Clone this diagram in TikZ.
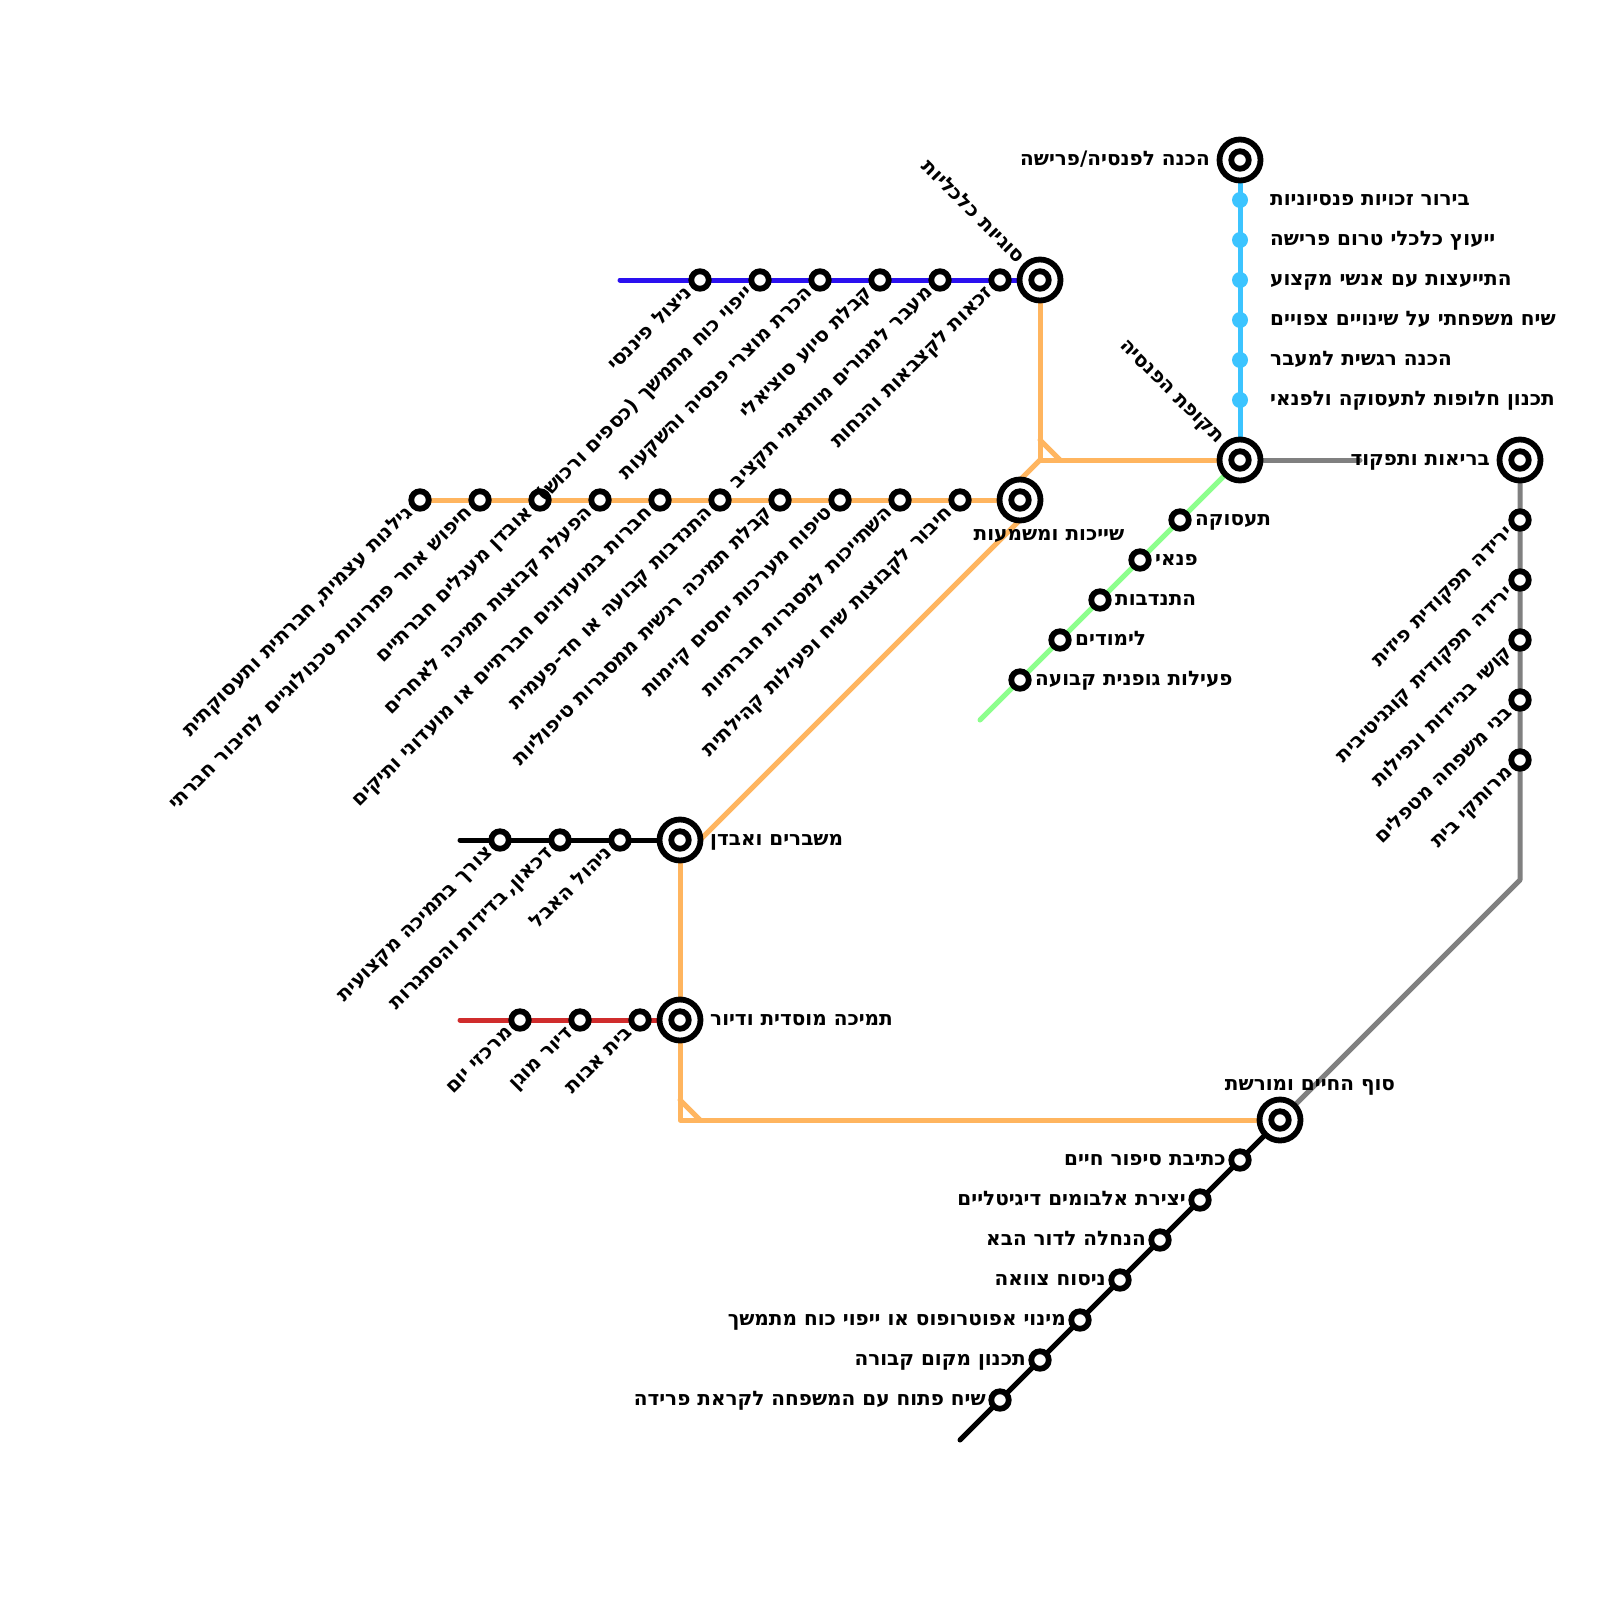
\documentclass[tikz,border=0pt]{standalone}
\usepackage{fontspec}
\TeXXeTstate=1
\newfontfamily\hebfont[Script=Hebrew]{DejaVu Sans}
\usetikzlibrary{backgrounds}
\definecolor{lorange}{HTML}{FFB55F}
\definecolor{lblue}{HTML}{2A10F0}
\definecolor{lcyan}{HTML}{3CC4FF}
\definecolor{lgreen}{HTML}{8CFF8C}
\definecolor{lgray}{HTML}{808080}
\definecolor{lred}{HTML}{D02C2C}
\newcommand{\hb}[1]{{\hebfont\bfseries\beginR #1\endR}}
\tikzset{
  st/.style={circle,draw=black,fill=white,line width=5.8pt,outer sep=0pt,minimum size=17.5pt,inner sep=0pt},
  dot/.style={circle,fill=lcyan,outer sep=0pt,minimum size=16pt,inner sep=0pt},
  hubo/.style={circle,draw=black,fill=white,line width=5.8pt,outer sep=0pt,minimum size=41pt,inner sep=0pt},
  hubi/.style={circle,draw=black,fill=white,line width=5.8pt,outer sep=0pt,minimum size=17.5pt,inner sep=0pt},
  lab/.style={inner sep=0pt,text height=14pt,text depth=4pt,font=\fontsize{20}{24}\selectfont},
  dl/.style={lab,xshift=-10pt,yshift=-10pt,rotate=45,anchor=east},
  ul/.style={lab,xshift=-19.5pt,yshift=19.5pt,rotate=-45,anchor=east},
  ll/.style={lab,xshift=-14pt,anchor=east},
  rl/.style={lab,xshift=15pt,anchor=west},
  line/.style={line width=5pt,line cap=round,line join=round},
}
\begin{document}
\begin{tikzpicture}[x=1pt,y=-1pt]
\useasboundingbox (0,0) rectangle (1600,1600);
% hubs
\foreach \n/\x/\y in {ha/1240/160,hb/1040/280,hc/1240/460,hd/1520/460,he/1020/500,hf/680/840,hg/680/1020,hh/1280/1120}{
  \node[hubo] (\n) at (\x,\y) {};
  \node[hubi] (\n i) at (\x,\y) {};
}
% stations
\foreach \n/\x in {b1/700,b2/760,b3/820,b4/880,b5/940,b6/1000}{\node[st] (\n) at (\x,280) {};}
\foreach \n/\x in {o1/420,o2/480,o3/540,o4/600,o5/660,o6/720,o7/780,o8/840,o9/900,o10/960}{\node[st] (\n) at (\x,500) {};}
\foreach \n/\y in {c1/200,c2/240,c3/280,c4/320,c5/360,c6/400}{\node[dot] (\n) at (1240,\y) {};}
\foreach \n/\x/\y in {g1/1180/520,g2/1140/560,g3/1100/600,g4/1060/640,g5/1020/680}{\node[st] (\n) at (\x,\y) {};}
\foreach \n/\y in {y1/520,y2/580,y3/640,y4/700,y5/760}{\node[st] (\n) at (1520,\y) {};}
\foreach \n/\x in {k1/500,k2/560,k3/620}{\node[st] (\n) at (\x,840) {};}
\foreach \n/\x in {r1/520,r2/580,r3/640}{\node[st] (\n) at (\x,1020) {};}
\foreach \n/\x/\y in {t1/1240/1160,t2/1200/1200,t3/1160/1240,t4/1120/1280,t5/1080/1320,t6/1040/1360,t7/1000/1400}{\node[st] (\n) at (\x,\y) {};}
% free ends and bends
\coordinate (bs) at (620,280);
\coordinate (os) at (1040,460);
\coordinate (ot) at (1040,440);
\coordinate (ou) at (1060,460);
\coordinate (oq) at (1020,480);
\coordinate (ov) at (1020,520);
\coordinate (ow) at (680,860);
\coordinate (ox) at (680,1120);
\coordinate (oy) at (680,1100);
\coordinate (oz) at (700,1120);
\coordinate (gs) at (980,720);
\coordinate (ya) at (1360,460);
\coordinate (yb) at (1520,880);
\coordinate (ks) at (460,840);
\coordinate (rs) at (460,1020);
\coordinate (ts) at (960,1440);
% lines
\begin{pgfonlayer}{background}
\draw[line,lorange] (o1.center)--(he.center);
\draw[line,lorange] (hb.center)--(os)--(hc.center);
\draw[line,lorange] (os)--(oq)--(he.center)--(ov)--(ow)--(hf.center);
\draw[line,lorange] (ot)--(ou);
\draw[line,lorange] (hf.center)--(ox)--(hh.center);
\draw[line,lorange] (oy)--(oz);
\draw[line,lblue] (bs)--(hb.center);
\draw[line,lcyan] (ha.center)--(hc.center);
\draw[line,lgreen] (hc.center)--(gs);
\draw[line,lgray] (hc.center)--(ya);
\draw[line,lgray] (hd.center)--(yb)--(hh.center);
\draw[line,black] (ks)--(hf.center);
\draw[line,lred] (rs)--(hg.center);
\draw[line,black] (hh.center)--(ts);
\end{pgfonlayer}
% hub labels
\node[lab,anchor=east] (lha) at (1210,160) {\hb{הכנה לפנסיה/פרישה}};
\node[ul] (lhb) at (hb) {\hb{סוגיות כלכליות}};
\node[ul] (lhc) at (hc) {\hb{תקופת הפנסיה}};
\node[lab,anchor=east] (lhd) at (1490,460) {\hb{בריאות ותפקוד}};
\node[lab] (lhe) at (1049,535) {\hb{שייכות ומשמעות}};
\node[lab,anchor=west] (lhf) at (710,840) {\hb{משברים ואבדן}};
\node[lab,anchor=west] (lhg) at (710,1020) {\hb{תמיכה מוסדית ודיור}};
\node[lab] (lhh) at (1310,1085) {\hb{סוף החיים ומורשת}};
% blue labels
\node[dl] (lb1) at (b1) {\hb{ניצול פיננסי}};
\node[dl] (lb2) at (b2) {\hb{ייפוי כוח מתמשך (כספים ורכוש)}};
\node[dl] (lb3) at (b3) {\hb{הכרת מוצרי פנסיה והשקעות}};
\node[dl] (lb4) at (b4) {\hb{קבלת סיוע סוציאלי}};
\node[dl] (lb5) at (b5) {\hb{מעבר למגורים מותאמי תקציב}};
\node[dl] (lb6) at (b6) {\hb{זכאות לקצבאות והנחות}};
% orange labels
\node[dl] (lo1) at (o1) {\hb{גילנות עצמית,\kern-3pt{} חברתית ותעסוקתית}};
\node[dl] (lo2) at (o2) {\hb{חיפוש אחר פתרונות טכנולוגיים לחיבור חברתי}};
\node[dl] (lo3) at (o3) {\hb{אובדן מעגלים חברתיים}};
\node[dl] (lo4) at (o4) {\hb{הפעלת קבוצות תמיכה לאחרים}};
\node[dl] (lo5) at (o5) {\hb{חברות במועדונים חברתיים או מועדוני ותיקים}};
\node[dl] (lo6) at (o6) {\hb{התנדבות קבועה או חד-פעמית}};
\node[dl] (lo7) at (o7) {\hb{קבלת תמיכה רגשית ממסגרות טיפוליות}};
\node[dl] (lo8) at (o8) {\hb{טיפוח מערכות יחסים קיימות}};
\node[dl] (lo9) at (o9) {\hb{השתייכות למסגרות חברתיות}};
\node[dl] (lo10) at (o10) {\hb{חיבור לקבוצות שיח ופעילות קהילתית}};
% cyan labels
\node[rl,xshift=15pt] (lc1) at (c1) {\hb{בירור זכויות פנסיוניות}};
\node[rl,xshift=15pt] (lc2) at (c2) {\hb{ייעוץ כלכלי טרום פרישה}};
\node[rl,xshift=15pt] (lc3) at (c3) {\hb{התייעצות עם אנשי מקצוע}};
\node[rl,xshift=15pt] (lc4) at (c4) {\hb{שיח משפחתי על שינויים צפויים}};
\node[rl,xshift=15pt] (lc5) at (c5) {\hb{הכנה רגשית למעבר}};
\node[rl,xshift=15pt] (lc6) at (c6) {\hb{תכנון חלופות לתעסוקה ולפנאי}};
% green labels
\node[rl] (lg1) at (g1) {\hb{תעסוקה}};
\node[rl] (lg2) at (g2) {\hb{פנאי}};
\node[rl] (lg3) at (g3) {\hb{התנדבות}};
\node[rl] (lg4) at (g4) {\hb{לימודים}};
\node[rl] (lg5) at (g5) {\hb{פעילות גופנית קבועה}};
% gray labels
\node[dl] (ly1) at (y1) {\hb{ירידה תפקודית פיזית}};
\node[dl] (ly2) at (y2) {\hb{ירידה תפקודית קוגניטיבית}};
\node[dl] (ly3) at (y3) {\hb{קושי בניידות ונפילות}};
\node[dl] (ly4) at (y4) {\hb{בני משפחה מטפלים}};
\node[dl] (ly5) at (y5) {\hb{מרותקי בית}};
% black and red labels
\node[dl] (lk1) at (k1) {\hb{צורך בתמיכה מקצועית}};
\node[dl] (lk2) at (k2) {\hb{דכאון,\kern-3pt{} בדידות והסתגרות}};
\node[dl] (lk3) at (k3) {\hb{ניהול האבל}};
\node[dl] (lr1) at (r1) {\hb{מרכזי יום}};
\node[dl] (lr2) at (r2) {\hb{דיור מוגן}};
\node[dl] (lr3) at (r3) {\hb{בית אבות}};
% bottom labels
\node[ll] (lt1) at (t1) {\hb{כתיבת סיפור חיים}};
\node[ll] (lt2) at (t2) {\hb{יצירת אלבומים דיגיטליים}};
\node[ll] (lt3) at (t3) {\hb{הנחלה לדור הבא}};
\node[ll] (lt4) at (t4) {\hb{ניסוח צוואה}};
\node[ll] (lt5) at (t5) {\hb{מינוי אפוטרופוס או ייפוי כוח מתמשך}};
\node[ll] (lt6) at (t6) {\hb{תכנון מקום קבורה}};
\node[ll] (lt7) at (t7) {\hb{שיח פתוח עם המשפחה לקראת פרידה}};
\end{tikzpicture}
\end{document}
